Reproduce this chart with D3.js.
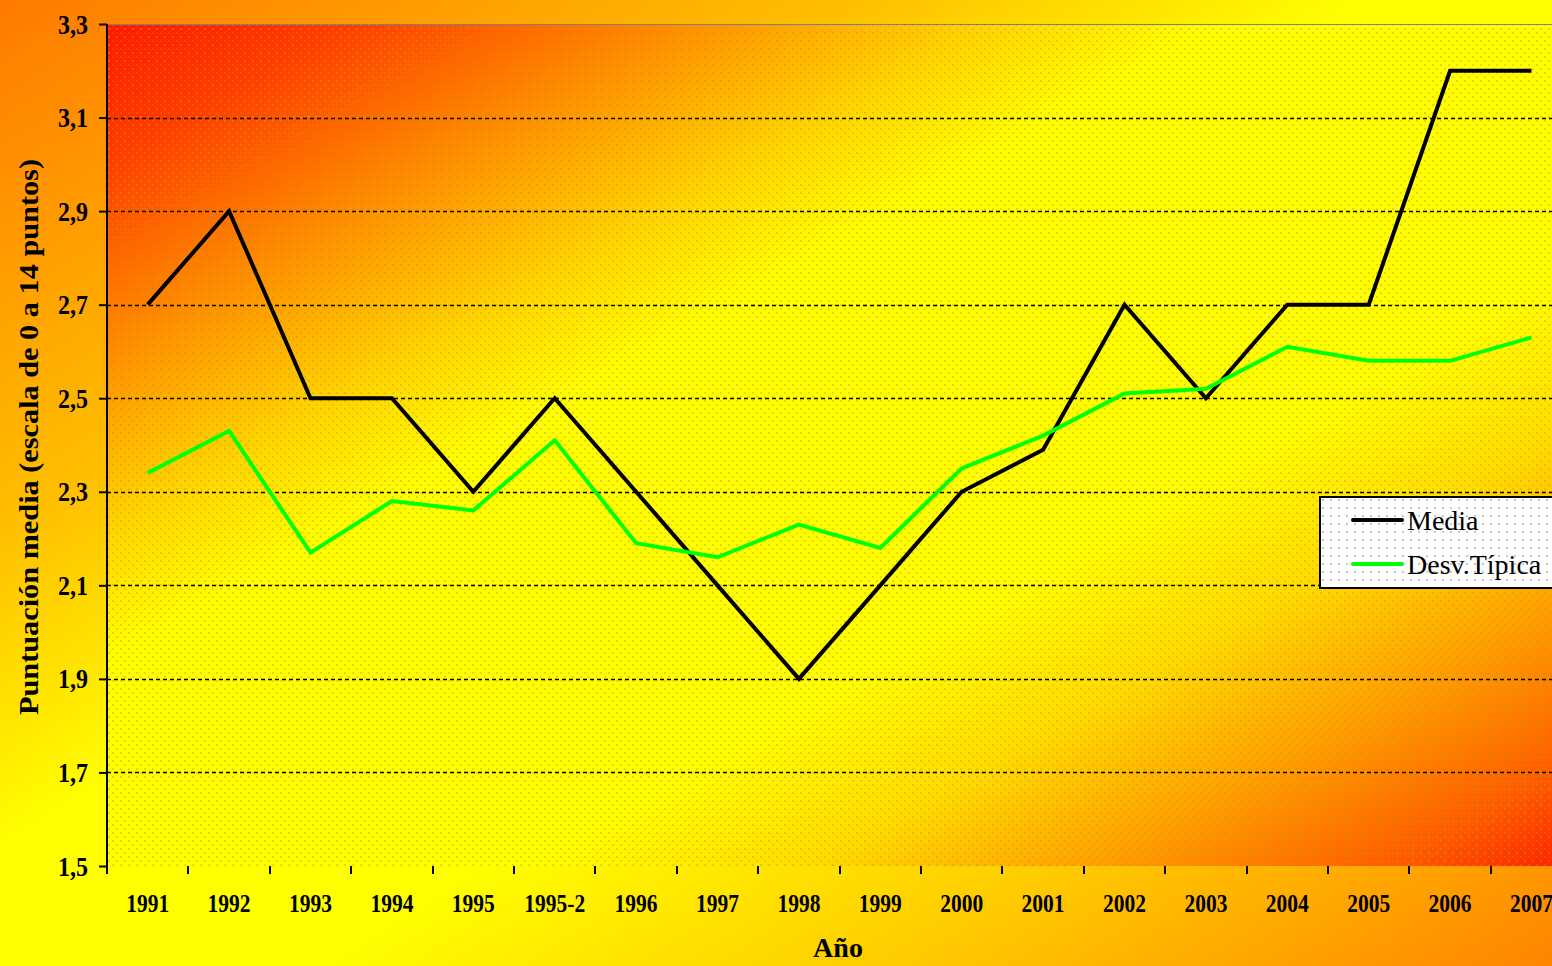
<!DOCTYPE html>
<html>
<head>
<meta charset="utf-8">
<script src="https://cdn.jsdelivr.net/npm/d3@7"></script>
<style>
  html, body { margin: 0; padding: 0; overflow: hidden; }
  svg { display: block; }
  text { font-family: "Liberation Serif", "Times New Roman", serif; fill: #000; }
</style>
</head>
<body>
<svg width="1552" height="966"></svg>
<script>
// datos
var years = ["1991", "1992", "1993", "1994", "1995", "1995-2", "1996", "1997", "1998",
  "1999", "2000", "2001", "2002", "2003", "2004", "2005", "2006", "2007"];
var media = [2.7, 2.9, 2.5, 2.5, 2.3, 2.5, 2.3, 2.1, 1.9, 2.1, 2.3, 2.39, 2.7, 2.5, 2.7, 2.7, 3.2, 3.2];
var desvTipica = [2.34, 2.43, 2.17, 2.28, 2.26, 2.41, 2.19, 2.16, 2.23, 2.18, 2.35, 2.42, 2.51, 2.52, 2.61, 2.58, 2.58, 2.63];
var yTicks = [1.5, 1.7, 1.9, 2.1, 2.3, 2.5, 2.7, 2.9, 3.1, 3.3];
var seriesNames = ["Media", "Desv.Típica"];
var seriesColors = ["#000000", "#00ff00"];

(function () {
  var svg = d3.select("svg"),
    width = +svg.attr("width"),
    height = +svg.attr("height");

  var left = 107, top = 24, bottom = 866, step = 81.4;

  var x = d3.scaleBand()
    .domain(years)
    .range([left, left + years.length * step]);

  var y = d3.scaleLinear()
    .domain([1.5, 3.3])
    .range([bottom, top]);

  var fmt = function (d) { return d3.format(".1f")(d).replace(".", ","); };

  var defs = svg.append("defs");

  function gradient(id, stops) {
    var g = defs.append("linearGradient")
      .attr("id", id)
      .attr("x1", 0).attr("y1", 0).attr("x2", 1).attr("y2", 1);
    g.selectAll("stop")
      .data(stops)
      .enter().append("stop")
      .attr("offset", function (d) { return d[0]; })
      .attr("stop-color", function (d) { return d[1]; });
  }

  gradient("bgGrad", [[0, "#ff7a00"], [0.28, "#ffc000"], [0.44, "#ffff00"], [0.6, "#ffff00"],
    [0.8, "#ffc800"], [1, "#ff8400"]]);
  gradient("plotGrad", [[0, "#ff1a00"], [0.08, "#ff3c00"], [0.2, "#ff9000"], [0.3, "#ffd400"],
    [0.38, "#ffff00"], [0.64, "#ffff00"], [0.74, "#ffdc00"], [0.85, "#ff9800"],
    [0.94, "#ff5a00"], [1, "#ff1e00"]]);

  // trama punteada
  var dots = defs.append("pattern")
    .attr("id", "dots")
    .attr("width", 8).attr("height", 8)
    .attr("patternUnits", "userSpaceOnUse");
  dots.append("rect").attr("x", 0).attr("y", 0).attr("width", 2).attr("height", 2)
    .attr("fill", "#a0a000").attr("opacity", 0.35);
  dots.append("rect").attr("x", 4).attr("y", 4).attr("width", 2).attr("height", 2)
    .attr("fill", "#ff9000").attr("opacity", 0.45);

  var greyDots = defs.append("pattern")
    .attr("id", "greyDots")
    .attr("width", 8).attr("height", 8)
    .attr("patternUnits", "userSpaceOnUse");
  greyDots.append("rect").attr("x", 2).attr("y", 2).attr("width", 2).attr("height", 2)
    .attr("fill", "#c8c8c8");

  svg.append("rect")
    .attr("width", width).attr("height", height)
    .attr("fill", "url(#bgGrad)");

  var plotW = x.range()[1] - left;
  svg.append("rect")
    .attr("x", left).attr("y", top)
    .attr("width", plotW).attr("height", bottom - top)
    .attr("fill", "url(#plotGrad)");
  svg.append("rect")
    .attr("x", left).attr("y", top)
    .attr("width", plotW).attr("height", bottom - top)
    .attr("fill", "url(#dots)");

  // borde superior
  svg.append("line")
    .attr("x1", left).attr("x2", width)
    .attr("y1", top + 0.5).attr("y2", top + 0.5)
    .attr("stroke", "#808080").attr("stroke-width", 1);

  // rejilla
  svg.append("g")
    .selectAll("line")
    .data(yTicks.slice(1, -1))
    .enter().append("line")
    .attr("x1", left).attr("x2", width)
    .attr("y1", function (d) { return Math.round(y(d)) + 0.5; })
    .attr("y2", function (d) { return Math.round(y(d)) + 0.5; })
    .attr("stroke", "#000")
    .attr("stroke-width", 1.4)
    .attr("stroke-dasharray", "4,3");

  // eje Y
  var yAxis = svg.append("g")
    .attr("transform", "translate(" + left + ",0)")
    .call(d3.axisLeft(y).tickValues(yTicks).tickFormat(fmt).tickSize(8).tickSizeOuter(0));
  yAxis.select(".domain").remove();
  yAxis.selectAll(".tick line").attr("stroke", "#000").attr("stroke-width", 2);
  yAxis.selectAll(".tick text")
    .attr("x", 0)
    .attr("dy", 0)
    .attr("transform", "translate(-19,9) scale(1,1.15)")
    .style("font-size", "24px")
    .style("font-weight", "bold")
    .style("font-family", "Liberation Serif");

  svg.append("line")
    .attr("x1", left).attr("x2", left)
    .attr("y1", top).attr("y2", bottom + 8)
    .attr("stroke", "#000").attr("stroke-width", 2);

  // eje X
  svg.append("g")
    .selectAll("line")
    .data(years.slice(1))
    .enter().append("line")
    .attr("x1", function (d) { return Math.round(x(d)); })
    .attr("x2", function (d) { return Math.round(x(d)); })
    .attr("y1", bottom).attr("y2", bottom + 8)
    .attr("stroke", "#000").attr("stroke-width", 2);

  var xAxis = svg.append("g")
    .attr("transform", "translate(0," + bottom + ")")
    .call(d3.axisBottom(x).tickSize(0));
  xAxis.select(".domain").remove();
  xAxis.selectAll(".tick text")
    .attr("y", 0)
    .attr("dy", 0)
    .attr("transform", "translate(0,46) scale(1,1.2)")
    .style("font-size", "21.5px")
    .style("font-weight", "bold")
    .style("font-family", "Liberation Serif");

  // títulos
  svg.append("text")
    .attr("transform", "translate(38,715) rotate(-90)")
    .attr("text-anchor", "start")
    .attr("textLength", 556)
    .attr("lengthAdjust", "spacingAndGlyphs")
    .style("font-size", "28px")
    .style("font-weight", "bold")
    .text("Puntuación media (escala de 0 a 14 puntos)");

  svg.append("text")
    .attr("x", 838).attr("y", 957)
    .attr("text-anchor", "middle")
    .style("font-size", "28px")
    .style("font-weight", "bold")
    .text("Año");

  // líneas
  var line = d3.line()
    .x(function (d, i) { return x(years[i]) + x.bandwidth() / 2; })
    .y(function (d) { return y(d); });

  [media, desvTipica].forEach(function (serie, k) {
    svg.append("path")
      .datum(serie)
      .attr("fill", "none")
      .attr("stroke", seriesColors[k])
      .attr("stroke-width", 4)
      .attr("stroke-linejoin", "miter")
      .attr("d", line);
  });

  // leyenda
  var legend = svg.append("g").attr("transform", "translate(1320,497)");
  legend.append("rect")
    .attr("width", 260).attr("height", 91)
    .attr("fill", "#ffffff").attr("stroke", "#000").attr("stroke-width", 2);
  legend.append("rect")
    .attr("x", 1).attr("y", 1)
    .attr("width", 258).attr("height", 89)
    .attr("fill", "url(#greyDots)");

  var item = legend.selectAll(".item")
    .data(seriesNames)
    .enter().append("g")
    .attr("class", "item")
    .attr("transform", function (d, i) { return "translate(0," + (23 + i * 44) + ")"; });
  item.append("line")
    .attr("x1", 33).attr("x2", 82)
    .attr("stroke", function (d, i) { return seriesColors[i]; })
    .attr("stroke-width", 4)
    .attr("stroke-linecap", "round");
  item.append("text")
    .attr("x", 87).attr("y", 10)
    .style("font-size", "28px")
    .text(function (d) { return d; });
})();
</script>
</body>
</html>
